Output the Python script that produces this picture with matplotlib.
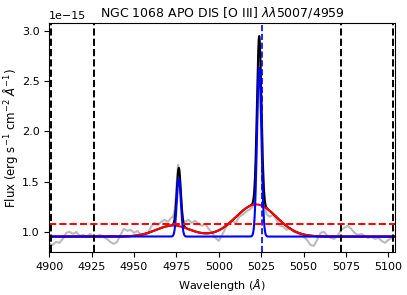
import numpy as np
import matplotlib
matplotlib.use('Agg')
import matplotlib.pyplot as plt

# observed spectrum (grey), flux in units of 1e-15
wave_obs = [4900, 4902, 4904, 4906, 4908, 4910, 4912, 4914, 4916, 4918, 4920, 4922, 4924,
            4926, 4928, 4930, 4932, 4934, 4936, 4938, 4940, 4942, 4944, 4946, 4948, 4950,
            4952, 4954, 4956, 4958, 4960, 4962, 4964, 4966, 4968, 4970, 4972, 4973, 4974,
            4975, 4976, 4977, 4978, 4979, 4980, 4982, 4984, 4986, 4988, 4990, 4992, 4994,
            4996, 4998, 5000, 5002, 5004, 5006, 5008, 5010, 5012, 5014, 5016, 5018, 5020,
            5021, 5022, 5023, 5024, 5025, 5026, 5027, 5028, 5030, 5032, 5034, 5036, 5038,
            5040, 5042, 5044, 5046, 5048, 5050, 5052, 5054, 5056, 5058, 5060, 5062, 5064,
            5066, 5068, 5070, 5072, 5074, 5076, 5078, 5080, 5082, 5084, 5086, 5088, 5090,
            5092, 5094, 5096, 5098, 5100, 5102, 5104]
flux_obs = [0.88, 0.87, 0.90, 0.89, 0.93, 0.99, 1.00, 0.98, 1.00, 0.96, 0.97, 0.95, 0.98,
            0.95, 0.96, 0.97, 0.95, 0.93, 0.90, 0.88, 0.90, 0.97, 1.03, 1.01, 1.02, 0.99,
            1.01, 0.97, 0.96, 0.98, 1.05, 1.09, 1.07, 1.10, 1.12, 1.10, 1.14, 1.15, 1.22,
            1.45, 1.67, 1.55, 1.25, 1.12, 1.10, 1.12, 1.09, 1.11, 1.08, 1.06, 1.08, 1.03,
            0.99, 0.94, 0.91, 0.97, 1.04, 1.09, 1.11, 1.09, 1.15, 1.17, 1.20, 1.22, 1.25,
            1.35, 1.70, 2.50, 2.95, 2.45, 1.70, 1.30, 1.18, 1.15, 1.17, 1.12, 1.06, 1.05,
            1.02, 1.04, 1.00, 0.99, 0.97, 0.95, 0.92, 0.87, 0.86, 0.92, 0.99, 1.00, 0.96,
            0.94, 0.93, 0.96, 1.02, 1.04, 1.06, 1.03, 0.99, 0.97, 0.98, 0.96, 0.94, 0.95,
            0.93, 0.94, 0.91, 0.89, 0.92, 0.94, 0.96]

# fitted components
continuum = 0.953
narrow_center = [4976.4, 5023.8]
narrow_amp = [0.58, 1.68]
narrow_sigma = [1.2, 1.3]
broad_center = [4973.0, 5022.0]
broad_amp = [0.11, 0.32]
broad_sigma = [10.0, 12.0]

window_lines = [4900.8, 4926.2, 5071.9, 5102.6]
line_center = 5025.3
cont_limit = 1.083

scale = 1e-15


def gauss(x, c, a, s):
    return a * np.exp(-(x - c) ** 2 / (2 * s ** 2))


w = np.linspace(4900, 5104, 3000)
narrow = continuum + sum(gauss(w, c, a, s) for c, a, s in zip(narrow_center, narrow_amp, narrow_sigma))
broad = continuum + sum(gauss(w, c, a, s) for c, a, s in zip(broad_center, broad_amp, broad_sigma))
total = narrow + broad - continuum

fig = plt.figure(figsize=(4.07, 2.95), dpi=100)
ax = fig.add_axes([0.121, 0.146, 0.850, 0.776])

ax.plot(wave_obs, np.array(flux_obs) * scale, color='#bbbbbb', lw=1.5)
ax.plot(w, total * scale, color='black', lw=1.5)
ax.plot(w, broad * scale, color='red', lw=1.5)
ax.plot(w, narrow * scale, color='blue', lw=1.5)

for x in window_lines:
    ax.axvline(x, color='black', ls='--', lw=1.4)
ax.axvline(line_center, color='blue', ls='--', lw=1.2)
ax.axhline(cont_limit * scale, color='red', ls='--', lw=1.4)

ax.set_xlim(4900, 5104)
ax.set_ylim(0.80 * scale, 3.08 * scale)
ax.set_xticks([4900, 4925, 4950, 4975, 5000, 5025, 5050, 5075, 5100])
ax.tick_params(labelsize=8)
ax.yaxis.get_offset_text().set_fontsize(8)
ax.set_xlabel(r'Wavelength ($\AA$)', fontsize=8)
ax.set_ylabel(r'Flux (erg s$^{-1}$ cm$^{-2}$ $\AA^{-1}$)', fontsize=8.5, labelpad=1)
ax.set_title(r'NGC 1068 APO DIS [O III] $\lambda\lambda$5007/4959', fontsize=9, pad=5)

fig.savefig('out.png', dpi=100)
